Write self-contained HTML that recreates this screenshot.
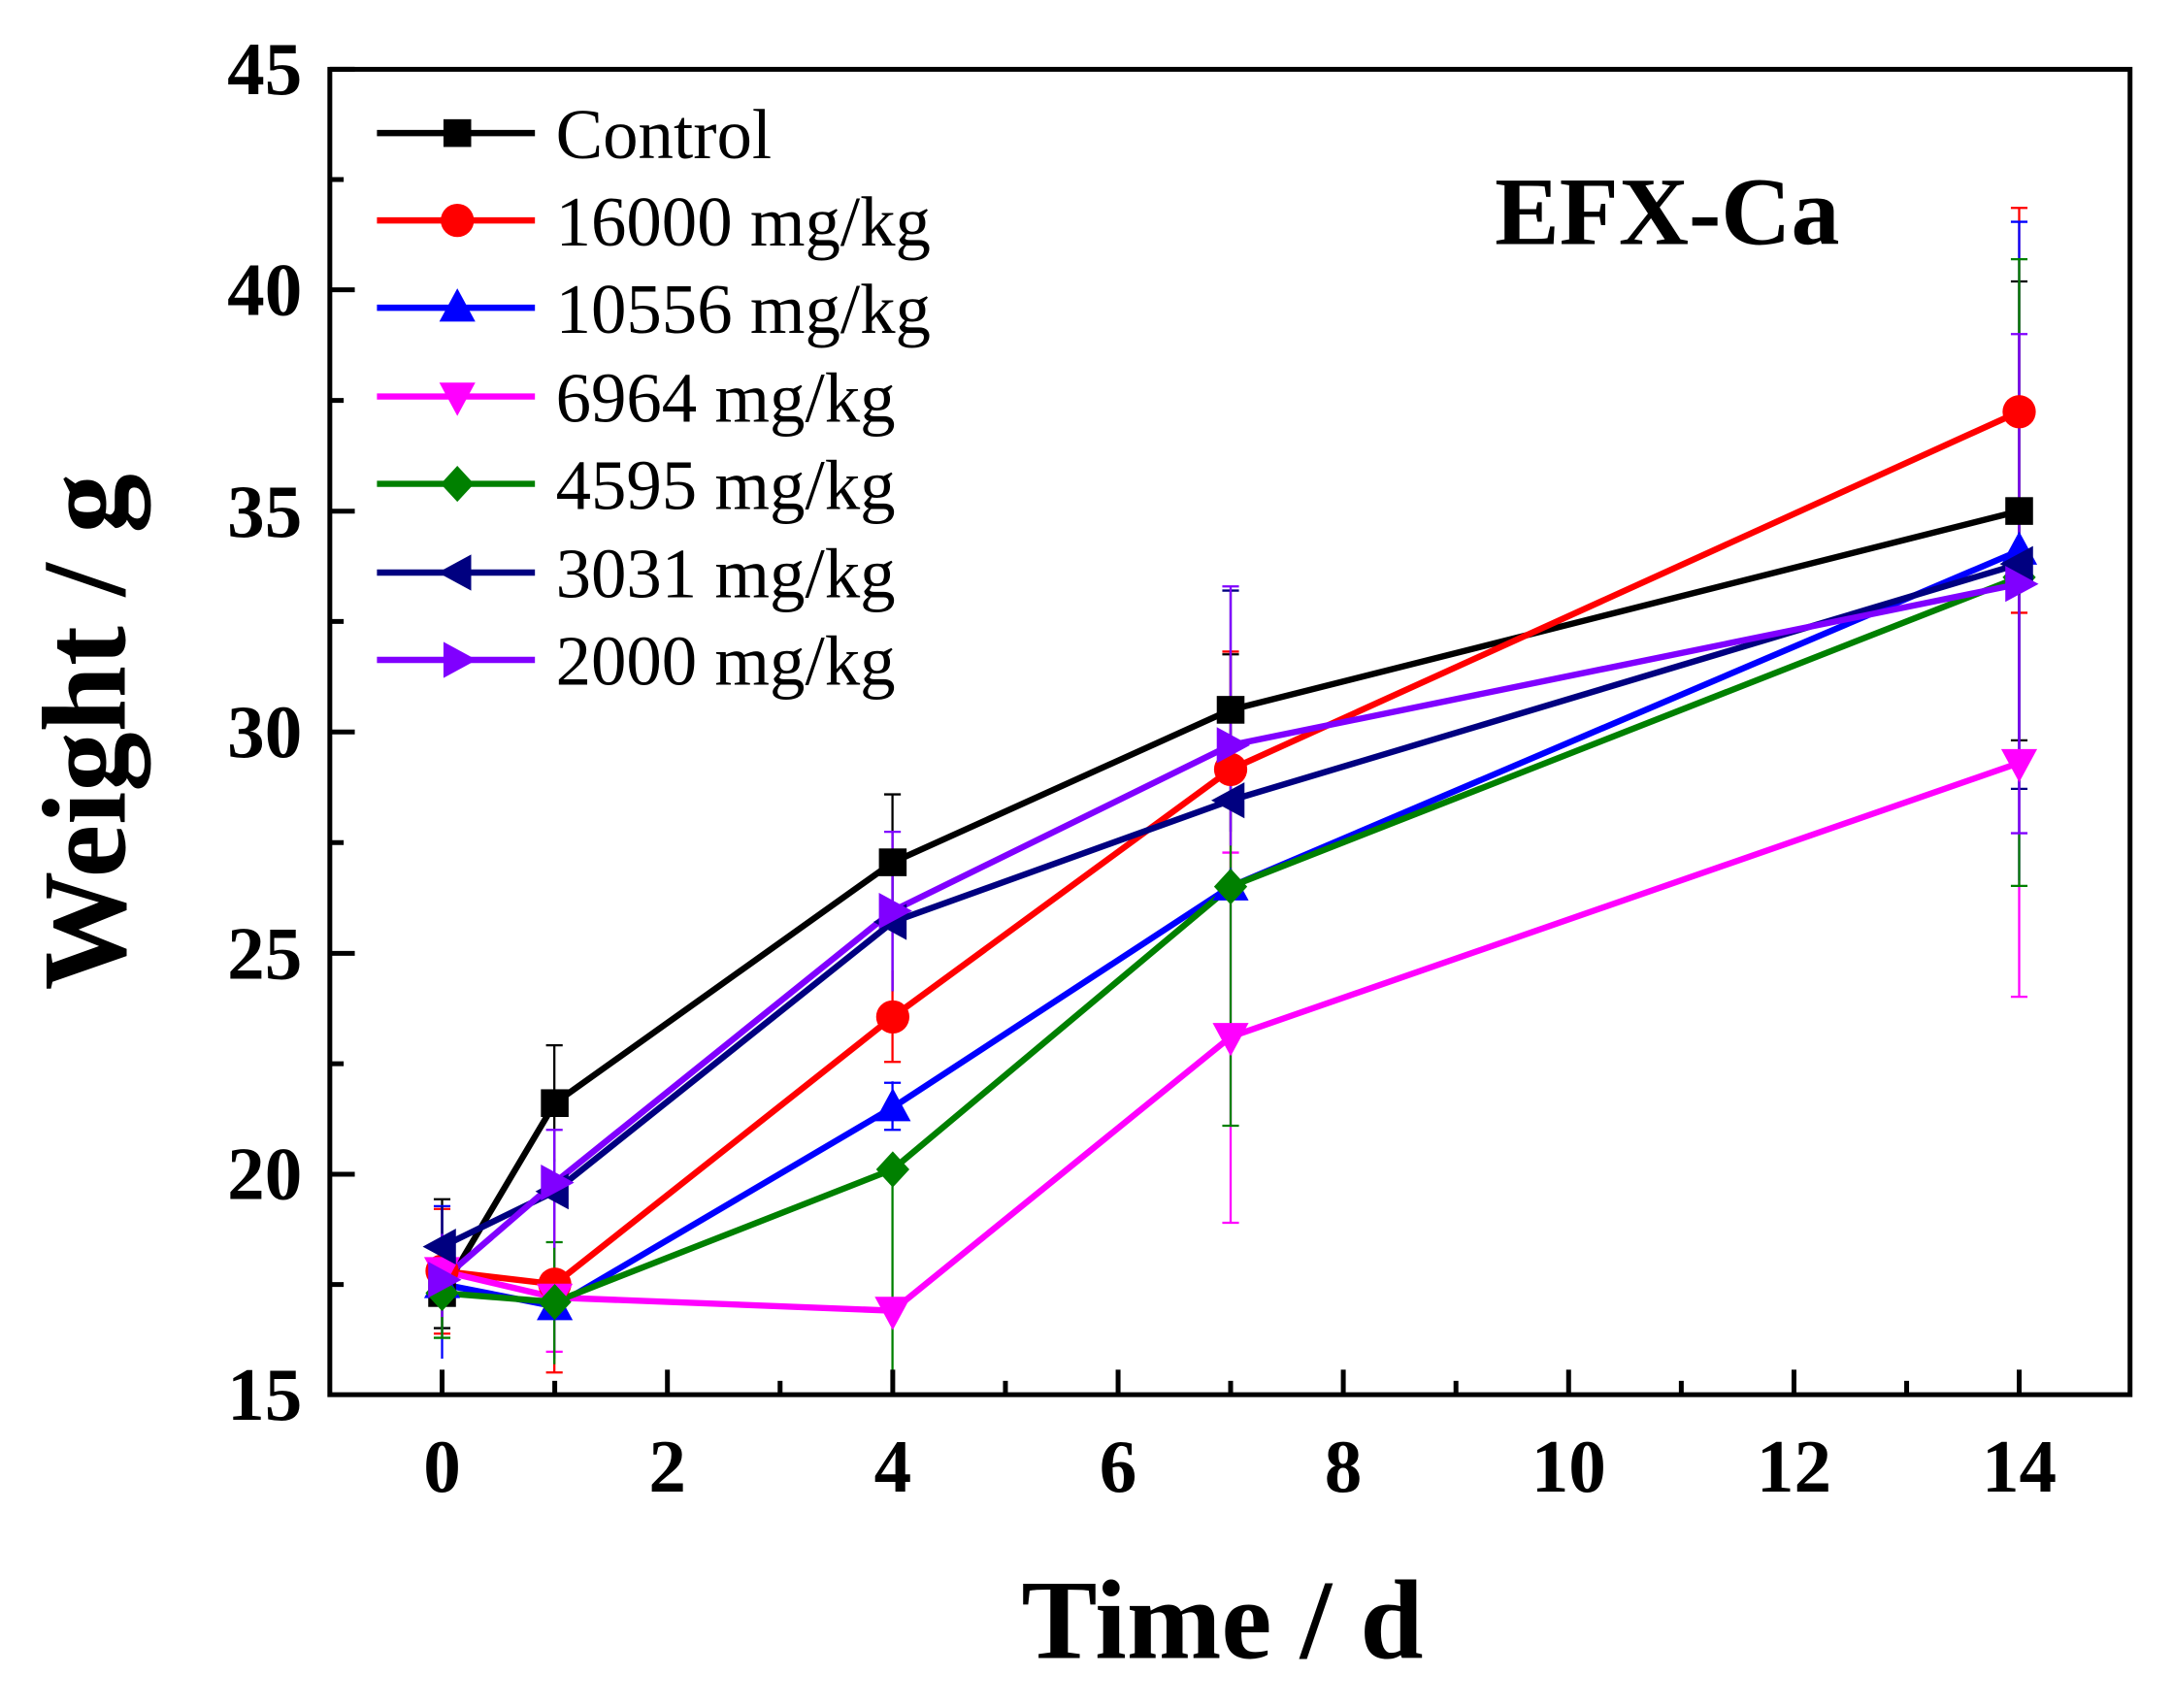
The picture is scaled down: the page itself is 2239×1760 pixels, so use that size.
<!DOCTYPE html>
<html><head><meta charset="utf-8"><style>
html,body{margin:0;padding:0;background:#fff;}
svg{display:block;}
text{font-family:"Liberation Serif",serif;}
</style></head><body>
<svg width="2239" height="1760" viewBox="0 0 1568 1232" preserveAspectRatio="none" xmlns="http://www.w3.org/2000/svg">
<defs>
<g id="sq"><rect x="-10" y="-10" width="20" height="20"/></g>
<g id="ci"><circle r="12"/></g>
<g id="tu"><polygon points="0,-14 13,10 -13,10"/></g>
<g id="td"><polygon points="0,14 13,-10 -13,-10"/></g>
<g id="di"><polygon points="0,-13 12,0 0,13 -12,0"/></g>
<g id="tl"><polygon points="-14,0 10,-13 10,13"/></g>
<g id="tr"><polygon points="14,0 -10,-13 -10,13"/></g>
</defs>
<rect width="1568" height="1232" fill="#fff"/>
<g stroke-width="1.6" fill="none">
<g stroke="#000"><path d="M319 958V865M313 958h12M313 865h12M400 754V838M394 754h12M644 573V670M638 573h12M888 472V552M882 472h12M1457 203V534M1451 203h12M1451 534h12"/></g>
<g stroke="#f00"><path d="M319 872V962M313 872h12M313 962h12M400 990V880M394 990h12M644 700V766M638 766h12M888 470V640M882 470h12M1457 150V442M1451 150h12M1451 442h12"/></g>
<g stroke="#00f"><path d="M319 870V980M313 870h12M400 900V980M644 780V815M638 781h12M638 815h12M1457 160V635M1451 160h12"/></g>
<g stroke="#f0f"><path d="M319 895V945M400 895V975M394 975h12M888 615V882M882 882h12M882 615h12M1457 385V719M1451 719h12"/></g>
<g stroke="#008000"><path d="M319 900V965M313 965h12M400 896V984M394 896h12M644 843V1000M888 526V812M882 812h12M1457 187V639M1451 187h12M1451 639h12"/></g>
<g stroke="#000080"><path d="M319 870V930M400 836V880M644 615V715M888 426V600M882 426h12M1457 380V569M1451 569h12"/></g>
<g stroke="#8000ff"><path d="M319 890V950M400 815V900M394 815h12M644 600V715M638 600h12M888 423V610M882 423h12M1457 241V601M1451 241h12M1451 601h12"/></g>
</g>
<g fill="none" stroke-width="4.5">
<polyline stroke="#000" points="319,932.7 400.3,795.7 644.2,622 888,512 1457,368.6"/>
<polyline stroke="#f00" points="319,916.8 400.3,926.3 644.2,733.5 888,555 1457,297"/>
<polyline stroke="#00f" points="319,926.3 400.3,942.3 644.2,798.8 888,639.5 1457,397.3"/>
<polyline stroke="#f0f" points="319,916.8 400.3,935.9 644.2,945.4 888,747.9 1457,550.3"/>
<polyline stroke="#008000" points="319,932.7 400.3,939.1 644.2,843.5 888,639.5 1457,416.4"/>
<polyline stroke="#000080" points="319,899.2 400.3,859.4 644.2,665 888,577.3 1457,406.8"/>
<polyline stroke="#8000ff" points="319,923.1 400.3,853 644.2,657 888,537.5 1457,421.2"/>
</g>
<g fill="#000"><use href="#sq" x="319" y="932.7"/><use href="#sq" x="400.3" y="795.7"/><use href="#sq" x="644.2" y="622"/><use href="#sq" x="888" y="512"/><use href="#sq" x="1457" y="368.6"/></g>
<g fill="#f00"><use href="#ci" x="319" y="916.8"/><use href="#ci" x="400.3" y="926.3"/><use href="#ci" x="644.2" y="733.5"/><use href="#ci" x="888" y="555"/><use href="#ci" x="1457" y="297"/></g>
<g fill="#00f"><use href="#tu" x="319" y="926.3"/><use href="#tu" x="400.3" y="942.3"/><use href="#tu" x="644.2" y="798.8"/><use href="#tu" x="888" y="639.5"/><use href="#tu" x="1457" y="397.3"/></g>
<g fill="#f0f"><use href="#td" x="319" y="916.8"/><use href="#td" x="400.3" y="935.9"/><use href="#td" x="644.2" y="945.4"/><use href="#td" x="888" y="747.9"/><use href="#td" x="1457" y="550.3"/></g>
<g fill="#008000"><use href="#di" x="319" y="932.7"/><use href="#di" x="400.3" y="939.1"/><use href="#di" x="644.2" y="843.5"/><use href="#di" x="888" y="639.5"/><use href="#di" x="1457" y="416.4"/></g>
<g fill="#000080"><use href="#tl" x="319" y="899.2"/><use href="#tl" x="400.3" y="859.4"/><use href="#tl" x="644.2" y="665"/><use href="#tl" x="888" y="577.3"/><use href="#tl" x="1457" y="406.8"/></g>
<g fill="#8000ff"><use href="#tr" x="319" y="923.1"/><use href="#tr" x="400.3" y="853"/><use href="#tr" x="644.2" y="657"/><use href="#tr" x="888" y="537.5"/><use href="#tr" x="1457" y="421.2"/></g>
<rect x="238" y="50" width="1299" height="956" fill="none" stroke="#000" stroke-width="3.5"/>
<g stroke="#000" stroke-width="3.5">
<path d="M319 1006v-18M481.6 1006v-18M644.2 1006v-18M806.8 1006v-18M969.3 1006v-18M1131.9 1006v-18M1294.5 1006v-18M1457 1006v-18"/>
<path d="M400.3 1006v-10M562.9 1006v-10M725.5 1006v-10M888 1006v-10M1050.6 1006v-10M1213.2 1006v-10M1375.8 1006v-10"/>
<path d="M238 847h18M238 687.7h18M238 528h18M238 368.7h18M238 209h18M238 50h18"/>
<path d="M238 926.5h10M238 767.3h10M238 607.8h10M238 448.3h10M238 288.8h10M238 129.5h10"/>
</g>
<g font-size="54" font-weight="bold" text-anchor="end">
<text x="218" y="1024">15</text><text x="218" y="865">20</text><text x="218" y="706">25</text><text x="218" y="546">30</text><text x="218" y="387">35</text><text x="218" y="227">40</text><text x="218" y="68">45</text>
</g>
<g font-size="54" font-weight="bold" text-anchor="middle">
<text x="319" y="1076">0</text><text x="481.6" y="1076">2</text><text x="644.2" y="1076">4</text><text x="806.8" y="1076">6</text><text x="969.3" y="1076">8</text><text x="1131.9" y="1076">10</text><text x="1294.5" y="1076">12</text><text x="1457" y="1076">14</text>
</g>
<text x="882" y="1196" font-size="82" font-weight="bold" text-anchor="middle">Time / d</text>
<text transform="translate(90,528) rotate(-90)" font-size="86" font-weight="bold" text-anchor="middle">Weight / g</text>
<text x="1203" y="176" font-size="70" font-weight="bold" text-anchor="middle">EFX-Ca</text>
<g stroke-width="4.5">
<line x1="272" y1="96" x2="386" y2="96" stroke="#000"/><use href="#sq" x="330" y="96" fill="#000"/>
<line x1="272" y1="159" x2="386" y2="159" stroke="#f00"/><use href="#ci" x="330" y="159" fill="#f00"/>
<line x1="272" y1="222" x2="386" y2="222" stroke="#00f"/><use href="#tu" x="330" y="222" fill="#00f"/>
<line x1="272" y1="286" x2="386" y2="286" stroke="#f0f"/><use href="#td" x="330" y="286" fill="#f0f"/>
<line x1="272" y1="349" x2="386" y2="349" stroke="#008000"/><use href="#di" x="330" y="349" fill="#008000"/>
<line x1="272" y1="413" x2="386" y2="413" stroke="#000080"/><use href="#tl" x="330" y="413" fill="#000080"/>
<line x1="272" y1="476" x2="386" y2="476" stroke="#8000ff"/><use href="#tr" x="330" y="476" fill="#8000ff"/>
</g>
<g font-size="51">
<text x="401" y="114">Control</text>
<text x="401" y="177">16000 mg/kg</text>
<text x="401" y="240">10556 mg/kg</text>
<text x="401" y="304">6964 mg/kg</text>
<text x="401" y="367">4595 mg/kg</text>
<text x="401" y="431">3031 mg/kg</text>
<text x="401" y="494">2000 mg/kg</text>
</g>
</svg>
</body></html>
